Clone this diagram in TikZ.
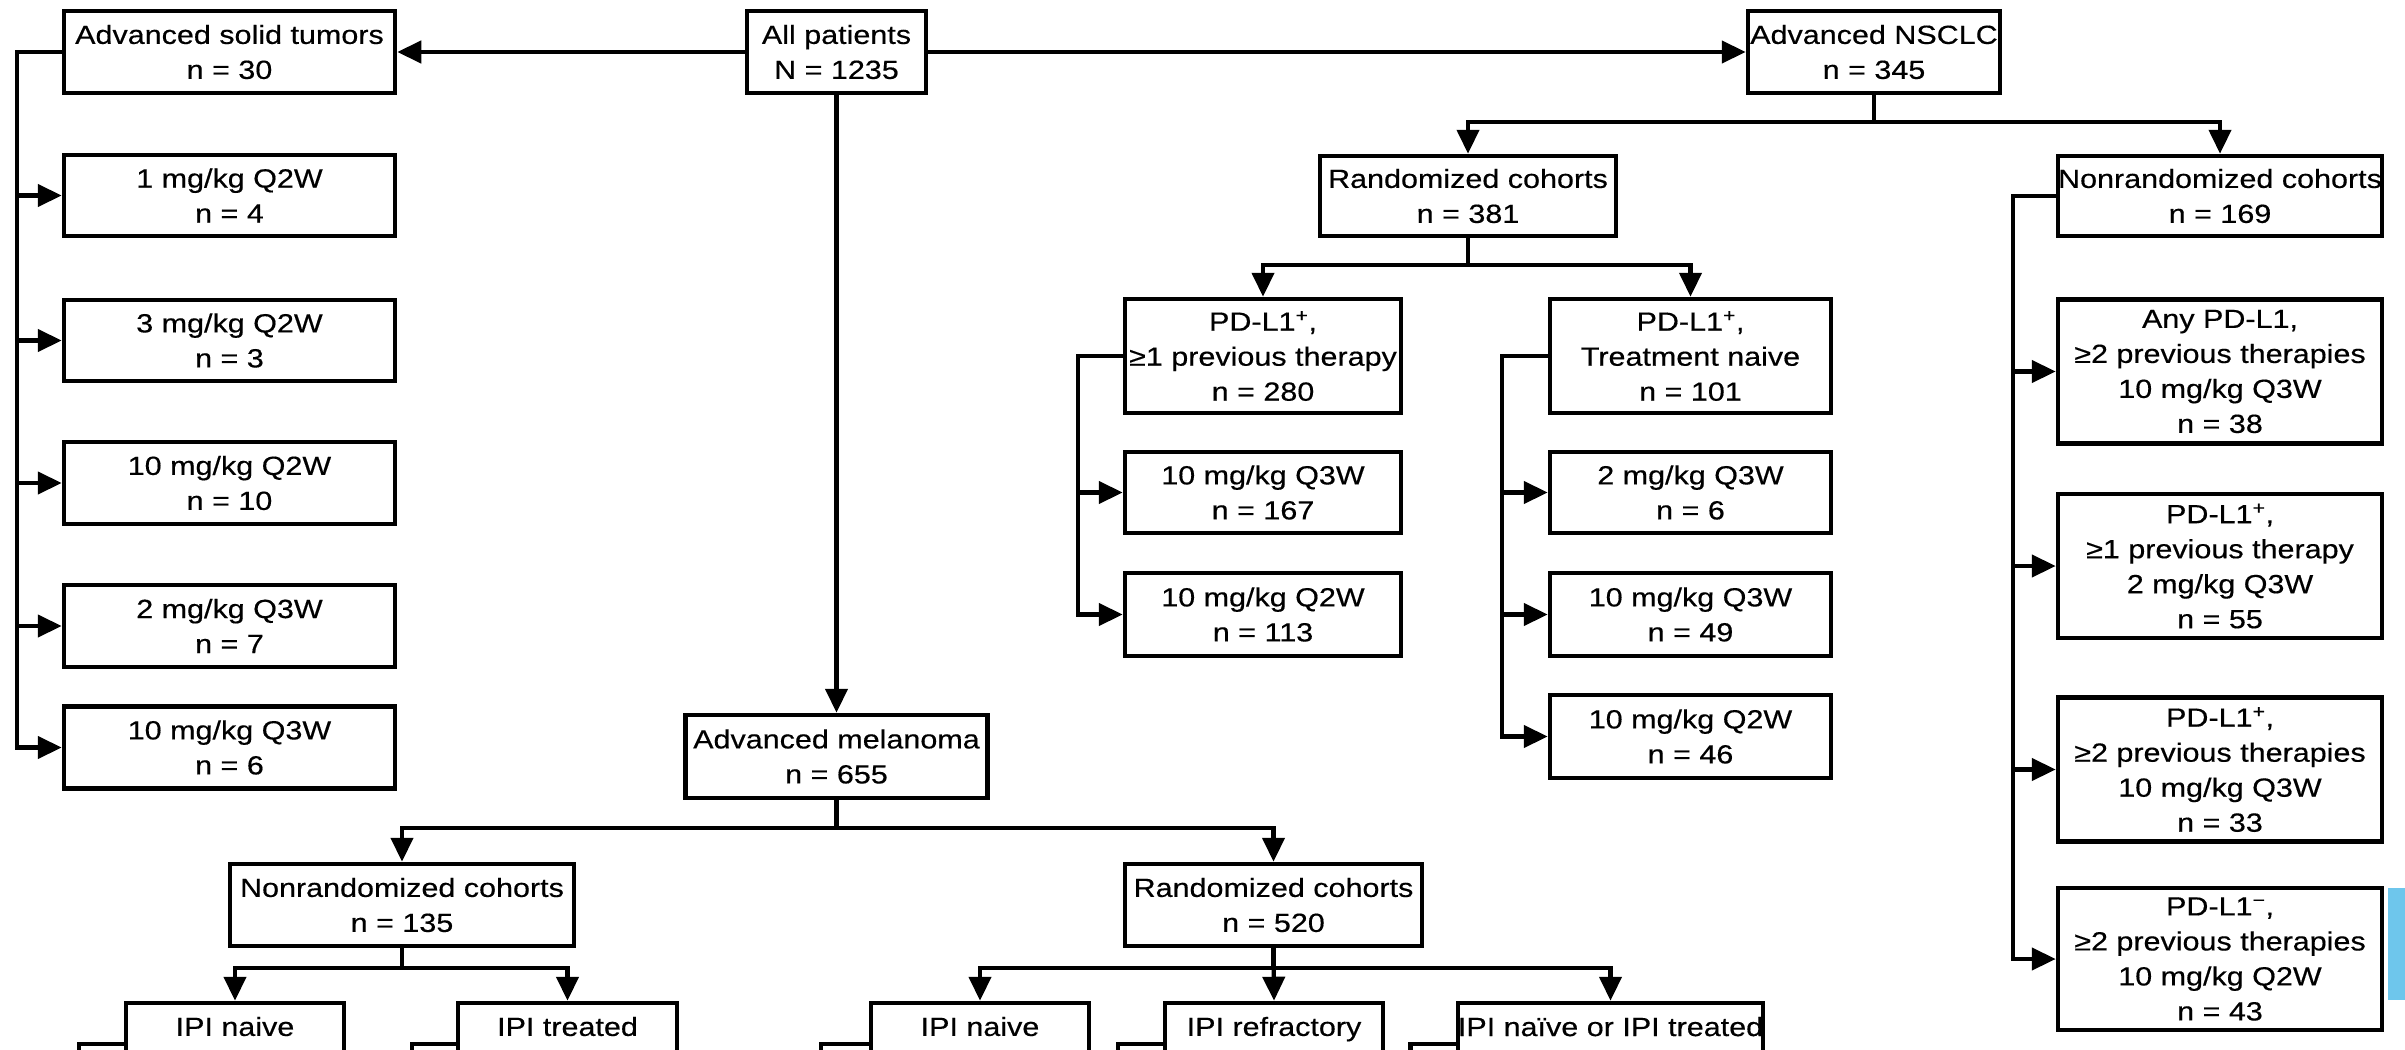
\documentclass[tikz,border=0pt]{standalone}
\usepackage{fontspec}
\setmainfont{Liberation Sans}[FakeStretch=1.16,FakeBold=0.4]
\usetikzlibrary{arrows.meta}
\newcommand\boxfont{\fontsize{26.3}{35}\selectfont}
\begin{document}
\begin{tikzpicture}[x=1pt,y=-1pt,
  box/.style={draw, line width=4.5pt, inner sep=0pt, align=center, font=\boxfont},
  conn/.style={line width=4.3pt},
  arr/.style={conn, -{Triangle[length=24pt,width=22pt]}}]
\useasboundingbox (0,0) rectangle (2405,1049);
\clip (0,0) rectangle (2405,1049);
\fill[white] (0,0) rectangle (2405,1049);

% ---- top row ----
\node[box, minimum width=331pt, minimum height=82pt] (ast) at (229.5,52) {Advanced solid tumors\\n = 30};
\node[box, minimum width=179pt, minimum height=82pt] (all) at (836.5,52) {All patients\\N = 1235};
\node[box, minimum width=252pt, minimum height=82pt] (nsclc) at (1874,52) {Advanced NSCLC\\n = 345};

\draw[arr] (all.west) -- (ast.east);
\draw[arr] (all.east) -- (nsclc.west);

% ---- advanced solid tumors ----
\node[box, minimum width=331pt, minimum height=81pt] (st1) at (229.5,195.5) {1 mg/kg Q2W\\n = 4};
\node[box, minimum width=331pt, minimum height=81pt] (st2) at (229.5,340.5) {3 mg/kg Q2W\\n = 3};
\node[box, minimum width=331pt, minimum height=82pt] (st3) at (229.5,483) {10 mg/kg Q2W\\n = 10};
\node[box, minimum width=331pt, minimum height=82pt] (st4) at (229.5,626) {2 mg/kg Q3W\\n = 7};
\node[box, minimum width=331pt, minimum height=82pt] (st5) at (229.5,747.5) {10 mg/kg Q3W\\n = 6};
\foreach \k in {st1,st2,st3,st4,st5}
  \draw[arr] (ast.west) -- ++(-45,0) |- (\k.west);

% ---- advanced melanoma ----
\node[box, minimum width=302pt, minimum height=83pt] (mel) at (836.5,756.5) {Advanced melanoma\\n = 655};
\draw[arr] (all.south) -- (mel.north);

\node[box, minimum width=344pt, minimum height=82pt] (melnr) at (402,905) {Nonrandomized cohorts\\n = 135};
\node[box, minimum width=297pt, minimum height=82pt] (melr) at (1273.5,905) {Randomized cohorts\\n = 520};
\draw[arr] (mel.south) -- ++(0,28) -| (melnr.north);
\draw[arr] (mel.south) -- ++(0,28) -| (melr.north);

\node[box, minimum width=218pt, minimum height=82pt] (ipin1) at (235,1044) {IPI naive\\n = 87};
\node[box, minimum width=219pt, minimum height=82pt] (ipit1) at (567.5,1044) {IPI treated\\n = 48};
\draw[arr] (melnr.south) -- ++(0,20) -| (ipin1.north);
\draw[arr] (melnr.south) -- ++(0,20) -| (ipit1.north);

\node[box, minimum width=218pt, minimum height=82pt] (ipin2) at (980,1044) {IPI naive\\n = 103};
\node[box, minimum width=218pt, minimum height=82pt] (ipir) at (1274,1044) {IPI refractory\\n = 173};
\node[box, minimum width=305pt, minimum height=82pt] (ipino) at (1610.5,1044) {IPI naïve or IPI treated\\n = 244};
\draw[arr] (melr.south) -- ++(0,20) -| (ipin2.north);
\draw[arr] (melr.south) -- (ipir.north);
\draw[arr] (melr.south) -- ++(0,20) -| (ipino.north);

\foreach \k/\d in {ipin1/45,ipit1/44,ipin2/48,ipir/45,ipino/45}
  \draw[conn] (\k.west) -- ++(-\d,0) -- ++(0,40);

% ---- advanced NSCLC ----
\node[box, minimum width=296pt, minimum height=80pt] (nsr) at (1468,196) {Randomized cohorts\\n = 381};
\node[box, minimum width=324pt, minimum height=80pt] (nsnr) at (2220,196) {Nonrandomized cohorts\\n = 169};
\draw[arr] (nsclc.south) -- ++(0,27) -| (nsr.north);
\draw[arr] (nsclc.south) -- ++(0,27) -| (nsnr.north);

\node[box, minimum width=276pt, minimum height=114pt] (pd1) at (1263,356) {PD-L1\textsuperscript{+},\\≥1 previous therapy\\n = 280};
\node[box, minimum width=281pt, minimum height=114pt] (pd2) at (1690.5,356) {PD-L1\textsuperscript{+},\\Treatment naive\\n = 101};
\draw[arr] (nsr.south) -- ++(0,27) -| (pd1.north);
\draw[arr] (nsr.south) -- ++(0,27) -| (pd2.north);

\node[box, minimum width=276pt, minimum height=81pt] (pa1) at (1263,492.5) {10 mg/kg Q3W\\n = 167};
\node[box, minimum width=276pt, minimum height=83pt] (pa2) at (1263,614.5) {10 mg/kg Q2W\\n = 113};
\foreach \k in {pa1,pa2}
  \draw[arr] (pd1.west) -- ++(-45,0) |- (\k.west);

\node[box, minimum width=281pt, minimum height=81pt] (pb1) at (1690.5,492.5) {2 mg/kg Q3W\\n = 6};
\node[box, minimum width=281pt, minimum height=83pt] (pb2) at (1690.5,614.5) {10 mg/kg Q3W\\n = 49};
\node[box, minimum width=281pt, minimum height=83pt] (pb3) at (1690.5,736.5) {10 mg/kg Q2W\\n = 46};
\foreach \k in {pb1,pb2,pb3}
  \draw[arr] (pd2.west) -- ++(-46,0) |- (\k.west);

\node[box, minimum width=324pt, minimum height=144pt] (na1) at (2220,371.5) {Any PD-L1,\\≥2 previous therapies\\10 mg/kg Q3W\\n = 38};
\node[box, minimum width=324pt, minimum height=144pt] (na2) at (2220,566) {PD-L1\textsuperscript{+},\\≥1 previous therapy\\2 mg/kg Q3W\\n = 55};
\node[box, minimum width=324pt, minimum height=144pt] (na3) at (2220,769.5) {PD-L1\textsuperscript{+},\\≥2 previous therapies\\10 mg/kg Q3W\\n = 33};
\node[box, minimum width=324pt, minimum height=142pt] (na4) at (2220,959) {PD-L1\textsuperscript{−},\\≥2 previous therapies\\10 mg/kg Q2W\\n = 43};
\foreach \k in {na1,na2,na3,na4}
  \draw[arr] (nsnr.west) -- ++(-43,0) |- (\k.west);

% side tab
\fill[fill={rgb,255:red,110;green,198;blue,236}] (2388,888) rectangle (2405,1000);
\end{tikzpicture}
\end{document}
